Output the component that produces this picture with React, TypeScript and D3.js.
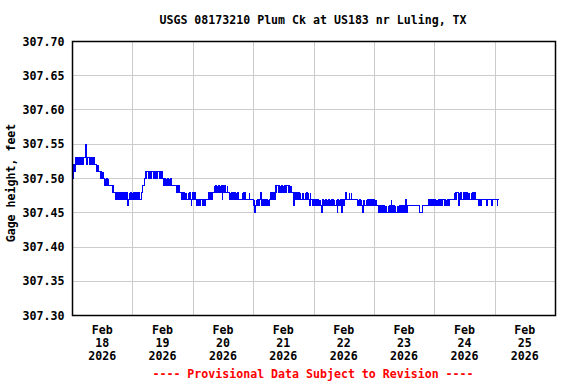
import React from "react";
import * as d3 from "d3";

const TITLE = "USGS 08173210 Plum Ck at US183 nr Luling, TX";
const Y_LABEL = "Gage height, feet";
const FOOTER = "---- Provisional Data Subject to Revision ----";

// Gage height readings, 15-minute interval, in hundredths of a foot above 307.40 ft
const BASE_FT = 307.4;
// Feb 17, starting 12:15
const feb17 = [10,12,11,12, 13,12,13,12,12,13,12,13,13,12,13,12,13, 13,13,13,15,13,12,13,13,13,12,13,13,12,13, 12,12,13,12,12,12, 11,12,11,12,11, 11,10,11,10,11];
const feb18 = [10,11,10, 9,10,9,10,9,9,10,9, 9,9,9,9,8,9,8, 8,8,8,7,8,8,
  7,8,7,8,8,7,8,7,7,8,7,8,7,7,8,7,6,7,8,7,7,8,7,8,7,8,7,7,8,7,8,7,7,8,7,7,
  7,7,8,8,9,9,10,10,11,10,11,11,
  11,10,11,11,10,11,11,11,10,11,11,10,11,11,10,11,11,11,10,11,10,11,11,10];
const feb19 = [10,9,10,10,9,10,9,10,9,9,10,9,10,9, 9,9,9,9,9,9, 9,8,9,8,8,9,8,8,
  8,7,8,7,7,8,7,8,7,8,7,7,8,7,8,7,7,6,7,8,7,7,8,7,7,6,
  7,7,6,7,6,7,7,7,7,6,7,7,6,7,7,7,7,7, 7,8,7,8,8,7,8,8,
  8,9,8,9,9,8,9,8,9,9,8,9,8,9,7,9];
const feb20 = [8,9,9,8, 8,8,9,8,8,8, 7,8,7,8,7,7,8,7,8,7,8,7,7,8, 7,7,7,7,7,7, 8,7,8,7,8,7,
  7,7,7,7,7,8,7,7,7,7,7,7, 6,7,5,6,
  7,6,7,6,7,6,7,8,6,7,6,6,7,6,7,6,6,7,6,7,6,7, 7,8,7,8,7,8,8,7,
  8,9,8,9,9,8,9,8,9,8,9,9,8,9];
const feb21 = [8,9,8,9,8,9,9,8,9,8,9,8,9,8,
  8,7,6,8,7,8,7,7,8,7,8,7,8,7,7,8,7,8,7,7,8,7,8,7,7,8,7,6,8,7,
  7,6,7,6,6,7,6,7,6,7,7,6,7,6,7,6,5,6,7,6,7,6,6,7,6,7,6,7,6,6,7,6,7,6,7,6,7,6,6,7,6,5,7,6,7,6,7,6,5,6,7,6];
const feb22 = [7,7,8,7,7,7,7,7,8,7,7,8,7,7,7,7,7,7,7,7,
  7,6,7,6,7,7,6,7,6,5,7,6,7,6,6,7,6,7,6,7,6,6,7,6,7,6,7,7,6,7,6,7,6,
  6,5,6,5,5,6,5,6,5,6,6,5,6,5,6,5,5,6,5,6,5,6,7,5,6,5,6,5,6,5,5,6,5,6,5,6,5,6,5,5,6,5,6];
const feb23 = [5,6,7,5,6, 6,6,6,6,6,6,6,6,6,6,6,6,6,6,6,6,6,6,6, 5,5,5,5,5, 6,6,6,6,6,6,6,6,
  6,7,6,7,7,6,7,6,7,6,7,7,6,7,6,7,6,7,7,6,7,6,7,6,7,7,6,7,6,7,6,7,7,6,
  7,7,7,7,7,7,7,7, 8,7,8,7,8,8,7,6,8,7,8,7, 7,7,7, 8,7];
const feb24 = [8,7,8,8,7,8,7,8,7,7,8,7,8,8,7,8, 7,7,7,7,7,7, 6,7,6,7,6,7,
  7,7,7,7,7,7,7,6,7,7,7,7,7,7,7,6,7,7,7,7,7,7,7,6,7,7,7];

const DAY_SERIES: [string, number[]][] = [
  ["2026-02-17T12:15:00Z", feb17],
  ["2026-02-18T00:00:00Z", feb18],
  ["2026-02-19T00:00:00Z", feb19],
  ["2026-02-20T00:00:00Z", feb20],
  ["2026-02-21T00:00:00Z", feb21],
  ["2026-02-22T00:00:00Z", feb22],
  ["2026-02-23T00:00:00Z", feb23],
  ["2026-02-24T00:00:00Z", feb24],
];

const Y_TICKS = ["307.30", "307.35", "307.40", "307.45", "307.50", "307.55", "307.60", "307.65", "307.70"];
const X_DAYS = ["18", "19", "20", "21", "22", "23", "24", "25"];
const X_MONTH = "Feb";
const X_YEAR = "2026";

const W = 576, H = 384;
const M = { left: 72, right: 555, top: 41, bottom: 315 };
const FONT = "'DejaVu Sans Mono', monospace";

export default function App() {
  const x = d3.scaleUtc()
    .domain([new Date("2026-02-17T12:00:00Z"), new Date("2026-02-25T12:00:00Z")])
    .range([M.left, M.right]);
  const y = d3.scaleLinear().domain([307.3, 307.7]).range([M.bottom, M.top]);

  const points: { t: Date; v: number }[] = [];
  for (const [start, vals] of DAY_SERIES) {
    const t0 = new Date(start).getTime();
    vals.forEach((h, i) => {
      points.push({ t: new Date(t0 + i * 15 * 60000), v: BASE_FT + h / 100 });
    });
  }
  const line = d3.line<{ t: Date; v: number }>()
    .x(d => Math.round(x(d.t)) + 0.5)
    .y(d => Math.round(y(d.v)) + 0.5)
    .curve(d3.curveStepAfter);

  const dayDates = X_DAYS.map(d => new Date(`2026-02-${d}T00:00:00Z`));
  const gridDates = X_DAYS.slice(0, 7).map(d => new Date(`2026-02-${d}T12:00:00Z`));

  return (
    <svg width={W} height={H} style={{ position: "absolute", left: 0, top: 0, background: "#fff" }}
      fontFamily={FONT} fontWeight="bold">
      <rect x={0} y={0} width={W} height={H} fill="#fff" />
      <text x={313} y={24} textAnchor="middle" fontSize={11.6} fill="#000">{TITLE}</text>
      {Y_TICKS.slice(1, -1).map(t => (
        <line key={"gy" + t} x1={M.left} x2={M.right} y1={Math.round(y(+t)) + 0.5} y2={Math.round(y(+t)) + 0.5}
          stroke="#cccccc" strokeWidth={1} shapeRendering="crispEdges" />
      ))}
      {gridDates.map((d, i) => (
        <line key={"gx" + i} x1={Math.round(x(d)) + 0.5} x2={Math.round(x(d)) + 0.5} y1={M.top} y2={M.bottom}
          stroke="#cccccc" strokeWidth={1} shapeRendering="crispEdges" />
      ))}
      <path d={line(points) || ""} fill="none" stroke="#0000ff" strokeWidth={1} shapeRendering="crispEdges" />
      <rect x={M.left + 0.5} y={M.top + 0.5} width={M.right - M.left} height={M.bottom - M.top}
        fill="none" stroke="#000" strokeWidth={1.5} />
      {Y_TICKS.map(t => (
        <text key={"yl" + t} x={64.5} y={y(+t) + 4.5} textAnchor="end" fontSize={11.6} fill="#000">{t}</text>
      ))}
      <text transform="translate(15,183) rotate(-90)" textAnchor="middle" fontSize={11.6} fill="#000">{Y_LABEL}</text>
      {dayDates.map((d, i) => (
        <g key={"xl" + i} transform={`translate(${x(d)},0)`}>
          <text y={334} textAnchor="middle" fontSize={11.6} fill="#000">{X_MONTH}</text>
          <text y={347} textAnchor="middle" fontSize={11.6} fill="#000">{X_DAYS[i]}</text>
          <text y={360} textAnchor="middle" fontSize={11.6} fill="#000">{X_YEAR}</text>
        </g>
      ))}
      <text x={313} y={378} textAnchor="middle" fontSize={11.6} fill="#ff0000">{FOOTER}</text>
    </svg>
  );
}
